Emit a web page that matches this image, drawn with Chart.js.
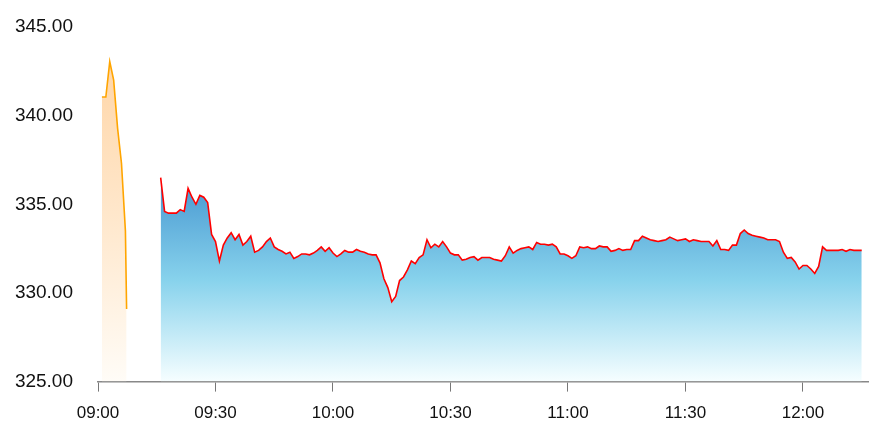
<!DOCTYPE html>
<html lang="en">
<head>
    <meta charset="UTF-8">
    <title>Intraday price</title>
    <script src="https://cdn.jsdelivr.net/npm/chart.js"></script>
    <style>
        html, body { margin: 0; padding: 0; background: #fff; }
        #chart-box { position: relative; width: 882px; height: 437px; }
    </style>
    <script>
        // minutes after 09:00
        var xTickValues = [0, 30, 60, 90, 120, 150, 180];
        var xTickLabels = ["09:00", "09:30", "10:00", "10:30", "11:00", "11:30", "12:00"];
        var yTickValues = [325, 330, 335, 340, 345];

        // pre-open (orange)
        var orangeMinutes = [1, 2, 3, 4, 5, 6, 7, 7.3];
        var orangeValues = [341.05, 341.05, 343.05, 342.0, 339.3, 337.3, 333.5, 329.1];

        // session, one value per minute from 09:16 (red line / blue fill)
        var blueStart = 16;
        var blueValues = [
            336.5, 334.6, 334.5, 334.5, 334.5, 334.7, 334.6, 335.9, 335.4, 335.0,
            335.5, 335.4, 335.1, 333.3, 332.9, 331.8, 332.7, 333.1, 333.4, 333.0,
            333.3, 332.7, 332.9, 333.2, 332.3, 332.4, 332.6, 332.9, 333.1, 332.6,
            332.45, 332.35, 332.2, 332.3, 331.95, 332.05, 332.2, 332.2, 332.15, 332.25,
            332.4, 332.6, 332.35, 332.55, 332.25, 332.05, 332.2, 332.4, 332.3, 332.3,
            332.45, 332.35, 332.3, 332.2, 332.15, 332.15, 331.7, 330.8, 330.3, 329.5,
            329.8, 330.7, 330.9, 331.3, 331.8, 331.65, 332.0, 332.15, 333.0, 332.55,
            332.75, 332.6, 332.9, 332.6, 332.25, 332.15, 332.15, 331.85, 331.9, 332.0,
            332.05, 331.85, 332.0, 332.0, 332.0, 331.9, 331.85, 331.8, 332.1, 332.6,
            332.25, 332.4, 332.5, 332.55, 332.6, 332.45, 332.85, 332.75, 332.75, 332.7,
            332.75, 332.6, 332.2, 332.2, 332.1, 331.95, 332.1, 332.6, 332.55, 332.6,
            332.5, 332.5, 332.65, 332.6, 332.6, 332.35, 332.4, 332.5, 332.4, 332.45,
            332.45, 332.95, 332.95, 333.2, 333.1, 333.0, 332.95, 332.9, 332.95, 333.0,
            333.15, 333.05, 332.95, 333.0, 333.05, 332.9, 333.0, 332.95, 332.9, 332.9,
            332.9, 332.65, 332.95, 332.45, 332.45, 332.4, 332.7, 332.7, 333.35, 333.55,
            333.35, 333.25, 333.2, 333.15, 333.1, 333.0, 333.0, 333.0, 332.9, 332.3,
            331.95, 332.0, 331.75, 331.35, 331.55, 331.55, 331.35, 331.1, 331.5, 332.6,
            332.4, 332.4, 332.4, 332.4, 332.45, 332.35, 332.45, 332.4, 332.4, 332.4
        ];

        function fadeFill(topValue, stops) {
            return function(context) {
                var chart = context.chart;
                var area = chart.chartArea;
                if (!area) return null;
                var top = chart.scales.y.getPixelForValue(topValue);
                var g = chart.ctx.createLinearGradient(0, top, 0, area.bottom);
                stops.forEach(function(s) { g.addColorStop(s[0], s[1]); });
                return g;
            };
        }

        function minuteLabel(v) {
            var i = xTickValues.indexOf(v);
            return i >= 0 ? xTickLabels[i] : "";
        }

        window.onload = function() {
            var orangePts = orangeMinutes.map(function(m, i) { return {x: m, y: orangeValues[i]}; });
            var bluePts = blueValues.map(function(v, i) { return {x: blueStart + i, y: v}; });

            Chart.defaults.font.family = "'Liberation Sans', Arial, sans-serif";
            Chart.defaults.font.size = 17;
            Chart.defaults.color = "#111";

            new Chart(document.getElementById("price_chart"), {
                type: "line",
                data: {
                    datasets: [
                        {
                            data: orangePts,
                            borderColor: "#ffa500",
                            borderWidth: 1.6,
                            pointRadius: 0,
                            tension: 0,
                            fill: "start",
                            backgroundColor: fadeFill(Math.max.apply(null, orangeValues), [
                                [0, "rgba(255,214,168,1)"],
                                [0.5, "rgba(255,232,205,1)"],
                                [1, "rgba(255,252,247,1)"]
                            ])
                        },
                        {
                            data: bluePts,
                            borderColor: "#ff0000",
                            borderWidth: 1.6,
                            pointRadius: 0,
                            tension: 0,
                            fill: "start",
                            backgroundColor: fadeFill(Math.max.apply(null, blueValues), [
                                [0, "rgb(70,150,208)"],
                                [0.5, "rgb(135,210,236)"],
                                [1, "rgb(246,254,255)"]
                            ])
                        }
                    ]
                },
                options: {
                    responsive: true,
                    maintainAspectRatio: false,
                    animation: false,
                    layout: { padding: { top: 27, right: 14, bottom: 1, left: 13 } },
                    plugins: { legend: { display: false }, tooltip: { enabled: false } },
                    scales: {
                        x: {
                            type: "linear",
                            min: 0,
                            max: 196.6,
                            afterBuildTicks: function(scale) {
                                scale.ticks = xTickValues.map(function(v) { return {value: v}; });
                            },
                            grid: { drawOnChartArea: false, drawTicks: true, tickLength: 10, color: "#777" },
                            border: { display: true, color: "#888", width: 1.5 },
                            ticks: { padding: 12, maxRotation: 0, callback: minuteLabel }
                        },
                        y: {
                            min: 325,
                            max: 345,
                            afterBuildTicks: function(scale) {
                                scale.ticks = yTickValues.map(function(v) { return {value: v}; });
                            },
                            afterFit: function(scale) {
                                scale.width = 85;
                                scale.paddingTop = 0;
                                scale.paddingBottom = 0;
                            },
                            grid: { display: false, drawTicks: false },
                            border: { display: false },
                            ticks: {
                                padding: 25,
                                font: { size: 19 },
                                callback: function(v) { return Number(v).toFixed(2); }
                            }
                        }
                    }
                }
            });
        };
    </script>
</head>
<body>
    <div id="chart-box">
        <canvas id="price_chart"></canvas>
    </div>
</body>
</html>
